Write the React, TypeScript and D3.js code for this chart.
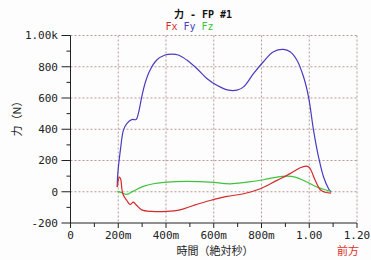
import React, { useEffect, useRef } from 'react'
import * as d3 from 'd3'

// 時間 (s) と値 (N)
const fyTime = [0.196, 0.197, 0.2105, 0.2215, 0.2357, 0.2566, 0.2746, 0.284, 0.2985, 0.312, 0.333, 0.3614, 0.396, 0.424, 0.452, 0.487, 0.529, 0.571, 0.613, 0.662, 0.697, 0.725, 0.767, 0.808, 0.85, 0.892, 0.92, 0.948, 0.976, 0.997, 1.018, 1.039, 1.06, 1.081, 1.091]
const fyValue = [30, 94, 286, 393, 436, 462, 462, 500, 607, 693, 778, 843, 875, 881, 875, 843, 789, 725, 682, 650, 650, 671, 757, 832, 896, 911, 896, 843, 736, 607, 393, 222, 94, 19, -3]

const fxTime = [0.196, 0.2046, 0.21, 0.219, 0.236, 0.2495, 0.263, 0.2776, 0.2985, 0.34, 0.403, 0.459, 0.515, 0.585, 0.655, 0.725, 0.795, 0.865, 0.92, 0.962, 0.988, 1.001, 1.025, 1.046, 1.067, 1.091]
const fxValue = [30, 94, 82, -13, -56, -82, -67, -88, -116, -126, -126, -116, -88, -56, -30, -13, 19, 73, 116, 154, 164, 154, 73, 13, -3, -9]

const fzTime = [0.196, 0.2147, 0.2357, 0.263, 0.305, 0.347, 0.403, 0.487, 0.585, 0.669, 0.739, 0.808, 0.865, 0.906, 0.941, 0.99, 1.032, 1.067, 1.091]
const fzValue = [2, -6, -17, 4, 34, 51, 62, 66, 62, 51, 62, 77, 94, 100, 94, 62, 30, 13, 4]

const xTicks = [0, 0.2, 0.4, 0.6, 0.8, 1.0, 1.2]
const xTickLabels = ['0', '200m', '400m', '600m', '800m', '1.00', '1.20']
const yTicks = [-200, 0, 200, 400, 600, 800, 1000]
const yTickLabels = ['-200', '0', '200', '400', '600', '800', '1.00k']

const seriesNames = ['Fx', 'Fy', 'Fz']
const seriesColors = ['#d42a2a', '#4a3cc0', '#3cc43c']

const mono = '"DejaVu Sans Mono", monospace'
const cjk = '"Noto Sans CJK JP", sans-serif'

export default function App() {
  const ref = useRef<SVGSVGElement>(null)
  useEffect(() => {
    document.body.style.margin = '0'
    const svg = d3.select(ref.current)
    svg.selectAll('*').remove()
    const x = d3.scaleLinear().domain([0, 1.2]).range([70.5, 357])
    const y = d3.scaleLinear().domain([-200, 1000]).range([223, 35.5])

    svg.append('rect').attr('width', 371).attr('height', 260).attr('fill', '#fdfdfd')

    // グリッド
    const grid = svg.append('g').attr('stroke', '#b89a92').attr('stroke-dasharray', '2,2').attr('stroke-width', 1)
    xTicks.slice(1).forEach(t => {
      grid.append('line').attr('x1', x(t)).attr('x2', x(t)).attr('y1', y(1000)).attr('y2', y(-200))
    })
    yTicks.slice(1).forEach(t => {
      grid.append('line').attr('x1', x(0)).attr('x2', x(1.2)).attr('y1', y(t)).attr('y2', y(t))
    })

    // 線
    const line = d3.line<[number, number]>().x(d => x(d[0])).y(d => y(d[1])).curve(d3.curveCatmullRom.alpha(0.5))
    const data = [
      d3.zip(fxTime, fxValue),
      d3.zip(fyTime, fyValue),
      d3.zip(fzTime, fzValue),
    ] as [number, number][][]
    // Fy, Fz の上に Fx
    ;[1, 2, 0].forEach(i => {
      svg.append('path').datum(data[i]).attr('d', line)
        .attr('fill', 'none').attr('stroke', seriesColors[i]).attr('stroke-width', 1.2)
    })

    // 軸
    const ax = svg.append('g').attr('stroke', '#222').attr('stroke-width', 1)
    ax.append('line').attr('x1', x(0)).attr('x2', x(0)).attr('y1', y(1000)).attr('y2', y(-200))
    ax.append('line').attr('x1', x(0)).attr('x2', x(1.2)).attr('y1', y(-200)).attr('y2', y(-200))
    yTicks.forEach(t => {
      ax.append('line').attr('x1', x(0) - 9).attr('x2', x(0)).attr('y1', y(t)).attr('y2', y(t))
    })
    d3.range(-100, 1000, 200).forEach(t => {
      ax.append('line').attr('x1', x(0) - 4).attr('x2', x(0)).attr('y1', y(t)).attr('y2', y(t))
    })
    xTicks.forEach(t => {
      ax.append('line').attr('x1', x(t)).attr('x2', x(t)).attr('y1', y(-200)).attr('y2', y(-200) + 5)
    })
    d3.range(0.1, 1.2, 0.2).forEach(t => {
      ax.append('line').attr('x1', x(t)).attr('x2', x(t)).attr('y1', y(-200)).attr('y2', y(-200) + 4)
    })

    yTicks.forEach((t, i) => {
      svg.append('text').text(yTickLabels[i]).attr('x', 58).attr('y', y(t)).attr('dy', '0.35em')
        .attr('text-anchor', 'end').attr('font-family', mono).attr('font-size', 11).attr('fill', '#222')
    })
    xTicks.forEach((t, i) => {
      svg.append('text').text(xTickLabels[i]).attr('x', x(t)).attr('y', 235).attr('dy', '0.35em')
        .attr('text-anchor', 'middle').attr('font-family', mono).attr('font-size', 11).attr('fill', '#222')
    })

    // タイトル
    svg.append('text').attr('x', 203).attr('y', 14).attr('dy', '0.35em').attr('text-anchor', 'middle')
      .attr('font-size', 10).attr('font-weight', 'bold').attr('fill', '#111')
      .call(t => {
        t.append('tspan').text('力').attr('font-family', cjk)
        t.append('tspan').text(' - FP #1').attr('font-family', mono)
      })
    const legend = svg.append('text').attr('x', 189.5).attr('y', 26).attr('dy', '0.35em').attr('text-anchor', 'middle')
      .attr('font-family', mono).attr('font-size', 10)
    seriesNames.forEach((n, i) => {
      legend.append('tspan').text((i > 0 ? ' ' : '') + n).attr('fill', seriesColors[i])
    })

    svg.append('text').text('力（N）').attr('transform', 'translate(17,116) rotate(-90)').attr('dy', '0.35em')
      .attr('text-anchor', 'middle').attr('font-family', cjk).attr('font-size', 11).attr('fill', '#222')
    svg.append('text').text('時間（絶対秒）').attr('x', 215).attr('y', 251).attr('dy', '0.35em')
      .attr('text-anchor', 'middle').attr('font-family', cjk).attr('font-size', 11).attr('fill', '#222')
    svg.append('text').text('前方').attr('x', 348).attr('y', 251).attr('dy', '0.35em')
      .attr('text-anchor', 'middle').attr('font-family', cjk).attr('font-size', 11).attr('fill', '#e0302a')
  }, [])
  return <svg ref={ref} width={371} height={260} style={{ display: 'block' }} />
}
